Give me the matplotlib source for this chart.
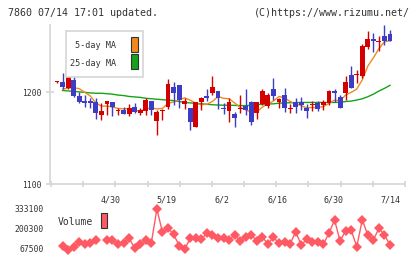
import numpy as np
import matplotlib
matplotlib.use('Agg')
import matplotlib.pyplot as plt
from matplotlib.patches import Rectangle

# Dados (61 pregoes)
opens = [1211, 1211.5, 1205, 1213.5, 1196, 1191, 1190.5, 1190, 1175, 1187,
         1189.5, 1179.5, 1181, 1176, 1184.5, 1177, 1179.5, 1190.5, 1169, 1179.5,
         1184.5, 1206, 1208, 1187.5, 1182.5, 1162.5, 1190, 1196.5, 1199.5, 1201.5,
         1183, 1179.5, 1176, 1181.5, 1185, 1189.5, 1178, 1187, 1185, 1203.5,
         1189, 1197, 1182, 1189, 1189, 1183, 1186, 1188, 1186, 1188,
         1201.5, 1194.5, 1199, 1219, 1219, 1217.5, 1249.5, 1258.5, 1255, 1261, 1263.5]
highs = [1212, 1220.5, 1218, 1217.5, 1200, 1197, 1193.5, 1193.5, 1188, 1191,
         1190, 1183, 1184, 1187, 1188, 1183, 1194, 1191, 1181, 1182,
         1215, 1211.5, 1208, 1194, 1183, 1190, 1195, 1203.5, 1217.5, 1201.5,
         1188, 1193.5, 1179, 1197, 1203.5, 1191, 1190, 1203.5, 1199, 1216,
         1194, 1205, 1187, 1194, 1195, 1187, 1191, 1191, 1192, 1202.5,
         1204, 1197, 1217.5, 1228.5, 1224, 1252.5, 1266.5, 1265, 1261, 1273, 1268]
lows = [1210, 1204, 1204, 1195, 1188, 1184, 1182.5, 1171.5, 1170, 1175,
        1174.5, 1175, 1176, 1174, 1177, 1175, 1175, 1175, 1153.5, 1170,
        1181.5, 1186, 1183, 1182, 1159, 1162, 1181, 1191, 1197, 1182,
        1176, 1168, 1162.5, 1178, 1175, 1165, 1171, 1186, 1183, 1191.5,
        1182.5, 1179, 1177, 1177, 1181, 1172, 1180, 1180, 1181, 1186,
        1190, 1183, 1191.5, 1205, 1210, 1216, 1247, 1244, 1245, 1251, 1256]
closes = [1211, 1206, 1217.5, 1196.5, 1190, 1188, 1188.5, 1177, 1180, 1190.5,
          1184.5, 1179.5, 1176, 1182.5, 1179, 1180.5, 1191.5, 1181, 1179, 1179.5,
          1209, 1199.5, 1191.5, 1190.5, 1167.5, 1190, 1193.5, 1194, 1206, 1193.5,
          1181.5, 1190, 1172.5, 1181.5, 1181, 1167.5, 1190, 1201.5, 1197, 1196.5,
          1192.5, 1183.5, 1182, 1184.5, 1186, 1180, 1186, 1182, 1189.5, 1201.5,
          1199.5, 1183.5, 1211, 1205, 1219, 1250, 1258, 1256, 1255, 1256, 1256]

nan = np.nan
ma5 = [nan, 1203.5, 1204.5, 1205, 1204, 1200, 1196, 1188.5, 1185, 1185,
       1184, 1182.5, 1182, 1182.5, 1180.5, 1179.5, 1182, 1183, 1182, 1182.5,
       1188, 1189.5, 1192, 1194, 1191.5, 1188, 1186.5, 1187, 1190, 1195.5,
       1193.5, 1193, 1188.5, 1183.5, 1181, 1178.5, 1178.5, 1184, 1187.5, 1190.5,
       1195.5, 1194, 1190, 1187.5, 1185.5, 1183, 1183.5, 1183.5, 1184.5, 1188,
       1191.5, 1191, 1197, 1200, 1203.5, 1213.5, 1228.5, 1237.5, 1247.5, 1255, 1256]
ma25 = [nan, 1202, 1201.5, 1201, 1200.5, 1200, 1199.3, 1199, 1199, 1198.5,
        1198, 1197, 1196.5, 1195.5, 1195, 1194.5, 1193.5, 1193, 1192.5, 1192,
        1191.5, 1191, 1190, 1189, 1188.5, 1188, 1187.5, 1187, 1186.5, 1186.2,
        1186, 1186, 1185.8, 1185.6, 1185.5, 1186, 1186.5, 1187, 1187.3, 1187.5,
        1188.2, 1188.5, 1188.7, 1188.8, 1189, 1189, 1189, 1189, 1189, 1189,
        1189, 1189.2, 1190, 1190.5, 1191.6, 1193, 1195.2, 1198, 1201.4, 1204.3, 1207.6]

volume = [nan, 89400, 60900, 82800, 112000, 100700, 109300, 127300, nan, 127300,
          127300, 98700, 109300, 138500, 72100, 100700, 127300, 109300, 333100, 178400,
          205000, 167100, 89400, 65500, 138500, 138500, 131900, 171700, 160500, 138500,
          138500, 127300, 160500, 122600, 149200, 160500, 122600, 145200, 100700, 145200,
          105300, 112000, 100700, 182400, 94100, 131900, 116000, 112000, 100700, 171700,
          260100, 122600, 187000, 193700, 82800, 260100, 160500, 127300, 205000, 160500, 94100]

date_labels = ['4/30', '5/19', '6/2', '6/16', '6/30', '7/14']
date_pos = [9.6, 19.8, 29.8, 39.8, 49.8, 60]
price_ticks = [1100, 1200]
vol_ticks = [67500, 200300, 333100]

# Cores
vermelho = '#d40000'
azul = '#3c3cc4'
laranja = '#f08a1e'
verde = '#17a317'
cor_vol = '#ff5a64'
cinza = '#d6d6d6'
texto = '#333333'
mono = 'DejaVu Sans Mono'

W, H = 420, 259
def fx(px):
    return px / W
def fy(py):
    return 1 - py / H

fig = plt.figure(figsize=(W / 100, H / 100), dpi=100)
fig.patch.set_facecolor('white')

x = np.arange(len(closes))
xlim = (-1.26, 62.7)

# Grafico de precos
ax = fig.add_axes([fx(50), fy(184.3), fx(405) - fx(50), fy(25) - fy(184.3)])
ax.set_xlim(*xlim)
ax.set_ylim(1100, 1273.2)
for s in ['top', 'right']:
    ax.spines[s].set_visible(False)
for s in ['left', 'bottom']:
    ax.spines[s].set_color(cinza)
    ax.spines[s].set_linewidth(1.2)

ax.plot(x, ma25, color=verde, lw=1.0, zorder=1)
ax.plot(x, ma5, color=laranja, lw=1.0, zorder=1)

o = np.array(opens); c = np.array(closes)
cores = [vermelho if c[i] >= o[i] else azul for i in range(len(c))]
ax.vlines(x, lows, highs, colors=cores, lw=1.0, zorder=2)
base = np.minimum(o, c)
altura = np.maximum(np.abs(c - o), 1.1)
ax.bar(x, altura, bottom=base, width=0.88, color=cores, lw=0, zorder=3)

ax.set_yticks(price_ticks)
ax.set_yticklabels([str(t) for t in price_ticks])
ax.tick_params(axis='y', direction='inout', length=5.8, width=1.2, color=cinza,
               pad=3.5, labelsize=5.8, labelcolor=texto)
ax.set_xticks(date_pos)
ax.set_xticklabels(date_labels)
ax.set_xticks(np.linspace(-1.08, 62.7, 12), minor=True)
ax.tick_params(axis='x', which='major', length=0, pad=8, labelsize=6, labelcolor=texto)
ax.tick_params(axis='x', which='minor', direction='inout', length=5, width=1.2, color=cinza)
for lab in ax.get_xticklabels() + ax.get_yticklabels():
    lab.set_family(mono)

# Legenda das medias
fig.add_artist(Rectangle((fx(65.7), fy(77.3)), 77.6 / W, 46.6 / H, transform=fig.transFigure,
                         facecolor='white', edgecolor=cinza, lw=1.2))
fig.text(fx(116), fy(46), '5-day MA', ha='right', va='center', fontsize=6.1,
         family=mono, color=texto)
fig.text(fx(116), fy(63.5), '25-day MA', ha='right', va='center', fontsize=6.1,
         family=mono, color=texto)
fig.add_artist(Rectangle((fx(131), fy(52.3)), 7 / W, 15 / H, transform=fig.transFigure,
                         facecolor=laranja, edgecolor='#333333', lw=0.8))
fig.add_artist(Rectangle((fx(131), fy(69.3)), 7 / W, 15 / H, transform=fig.transFigure,
                         facecolor=verde, edgecolor='#333333', lw=0.8))

# Volume
axv = fig.add_axes([fx(50), fy(255), fx(405) - fx(50), fy(203) - fy(255)])
axv.set_xlim(*xlim)
axv.set_ylim(27660, 372940)
for s in axv.spines.values():
    s.set_visible(False)
axv.set_facecolor('none')
axv.plot(x, volume, color=cor_vol, lw=1.0, marker='D', markersize=5,
         markeredgewidth=0, zorder=2)
axv.set_xticks([])
axv.set_yticks(vol_ticks)
axv.set_yticklabels([str(t) for t in vol_ticks])
axv.tick_params(axis='y', length=0, pad=4.3, labelsize=5.8, labelcolor=texto)
for lab in axv.get_yticklabels():
    lab.set_family(mono)

fig.text(fx(58), fy(222), 'Volume', ha='left', va='center', fontsize=7,
         family=mono, color=texto)
fig.add_artist(Rectangle((fx(101), fy(228.3)), 6 / W, 15 / H, transform=fig.transFigure,
                         facecolor=cor_vol, edgecolor='#333333', lw=0.8))

# Titulo
fig.text(fx(8), fy(12.7), '7860 07/14 17:01 updated.', ha='left', va='center',
         fontsize=7.2, family=mono, color=texto)
fig.text(fx(410), fy(12.7), '(C)https://www.rizumu.net/', ha='right', va='center',
         fontsize=7.2, family=mono, color=texto)

fig.savefig('out.png', dpi=100, facecolor='white')
